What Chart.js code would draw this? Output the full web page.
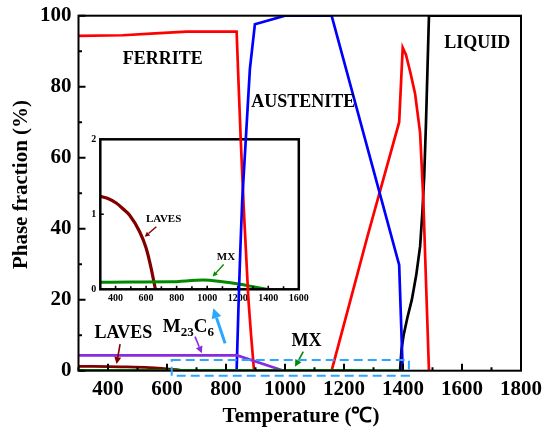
<!DOCTYPE html>
<html><head><meta charset="utf-8">
<script src="https://cdn.jsdelivr.net/npm/chart.js@4/dist/chart.umd.min.js"></script>
<style>
html,body{margin:0;padding:0;background:#fff;}
#wrap{position:relative;width:543px;height:432px;}
#inset{position:absolute;left:60px;top:125px;}
#main{position:absolute;left:0;top:0;}
</style></head>
<body><div id="wrap"><canvas id="inset" width="250" height="190"></canvas><canvas id="main" width="543" height="432"></canvas></div>
<script>
// ---------- data ----------
const ferriteT = [300, 450, 560, 667, 836, 843, 850, 860, 876, 885, 895, 1000, 1158, 1280, 1387, 1399, 1410, 1425, 1441, 1458, 1469, 1478, 1488];
const ferriteV = [94.3, 94.5, 95.0, 95.5, 95.5, 80, 65, 46, 20, 10, 0, 0, 0, 38, 70, 91, 89, 84, 78, 67, 48, 25, 0];
const austeniteT = [836, 843, 849, 855, 867, 881, 898, 1000, 1158, 1387, 1399];
const austeniteV = [0, 20, 35, 48, 65, 85, 97.6, 100, 100, 29.8, 0];
const liquidT = [1390, 1395, 1402, 1415, 1430, 1445, 1458, 1466, 1472, 1478, 1483, 1488, 1800];
const liquidV = [0, 6, 10, 15, 20, 27, 35, 45, 55, 70, 85, 100, 100];
const m23c6T = [300, 838, 995];
const m23c6V = [4.3, 4.3, 0];
const lavesT = [300, 350, 404, 450, 491, 557, 600, 633, 655, 661];
const lavesV = [1.24, 1.21, 1.15, 1.07, 0.99, 0.77, 0.55, 0.28, 0.06, 0];
const mxT = [300, 500, 757, 975, 1100, 1214, 1301, 1389];
const mxV = [0.093, 0.098, 0.10, 0.124, 0.10, 0.067, 0.035, 0];

const xTicks = [400, 600, 800, 1000, 1200, 1400, 1600, 1800];
const xMinor = [300, 500, 700, 900, 1100, 1300, 1500, 1700];
const yTicks = [0, 20, 40, 60, 80, 100];
const yMinor = [10, 30, 50, 70, 90];
const insetXTicks = [400, 600, 800, 1000, 1200, 1400, 1600];
const insetXMinor = [500, 700, 900, 1100, 1300, 1500];
const insetYTicks = [0, 1, 2];

// ---------- styling ----------
const SERIF = "'Liberation Serif','Times New Roman',serif";
const C = {red:'#FF0000', blue:'#0000FF', black:'#000000', purple:'#8A2BE2', laves:'#800000', green:'#008A00', lightBlue:'#2AA8FF'};

function pts(t, v){ return t.map((x, i) => ({x: x, y: v[i]})); }
function ds(label, t, v, color, w, smooth){
  const d = {label, data: pts(t, v), borderColor: color, backgroundColor: color, borderWidth: w,
          pointRadius: 0, showLine: true, fill: false, tension: 0};
  if (smooth) d.cubicInterpolationMode = 'monotone';
  return d;
}
function arrow(ctx, x1, y1, x2, y2, color, lw, head){
  ctx.save(); ctx.strokeStyle = color; ctx.fillStyle = color; ctx.lineWidth = lw;
  const a = Math.atan2(y2 - y1, x2 - x1);
  const bx = x2 - head * Math.cos(a), by = y2 - head * Math.sin(a);
  ctx.beginPath(); ctx.moveTo(x1, y1); ctx.lineTo(bx, by); ctx.stroke();
  const w = head * 0.5;
  ctx.beginPath(); ctx.moveTo(x2, y2);
  ctx.lineTo(bx + w * Math.sin(a), by - w * Math.cos(a));
  ctx.lineTo(bx - w * Math.sin(a), by + w * Math.cos(a));
  ctx.closePath(); ctx.fill(); ctx.restore();
}
function ticksIn(chart, xMaj, xMin, yMaj, yMin, majLen, minLen, lw){
  const ctx = chart.ctx, a = chart.chartArea, sx = chart.scales.x, sy = chart.scales.y;
  ctx.save(); ctx.strokeStyle = '#000'; ctx.lineWidth = lw; ctx.beginPath();
  xMaj.forEach(v => { const p = sx.getPixelForValue(v); ctx.moveTo(p, a.bottom); ctx.lineTo(p, a.bottom - majLen); });
  xMin.forEach(v => { const p = sx.getPixelForValue(v); ctx.moveTo(p, a.bottom); ctx.lineTo(p, a.bottom - minLen); });
  yMaj.forEach(v => { const p = sy.getPixelForValue(v); ctx.moveTo(a.left, p); ctx.lineTo(a.left + majLen, p); });
  yMin.forEach(v => { const p = sy.getPixelForValue(v); ctx.moveTo(a.left, p); ctx.lineTo(a.left + minLen, p); });
  ctx.stroke(); ctx.restore();
}
function frame(chart, lw){
  const ctx = chart.ctx, a = chart.chartArea;
  ctx.save(); ctx.strokeStyle = '#000'; ctx.lineWidth = lw;
  ctx.strokeRect(a.left, a.top, a.right - a.left, a.bottom - a.top); ctx.restore();
}
function text(chart, str, t, v, size, align){
  const ctx = chart.ctx;
  ctx.save(); ctx.fillStyle = '#000'; ctx.font = 'bold ' + size + 'px ' + SERIF;
  ctx.textAlign = align || 'center'; ctx.textBaseline = 'alphabetic';
  ctx.fillText(str, chart.scales.x.getPixelForValue(t), chart.scales.y.getPixelForValue(v));
  ctx.restore();
}
function dataArrow(chart, t1, v1, t2, v2, color, lw, head){
  const sx = chart.scales.x, sy = chart.scales.y;
  arrow(chart.ctx, sx.getPixelForValue(t1), sy.getPixelForValue(v1), sx.getPixelForValue(t2), sy.getPixelForValue(v2), color, lw, head);
}
const plainNum = v => String(v);
// the frame size is set by layout padding alone, not by label overflow
function fixX(h){ return s => { s.height = h; s.paddingLeft = 0; s.paddingRight = 0; }; }
function fixY(w){ return s => { s.width = w; s.paddingTop = 0; s.paddingBottom = 0; }; }

const mainDeco = {
  id: 'mainDeco',
  afterDraw(chart){
    const ctx = chart.ctx, sx = chart.scales.x, sy = chart.scales.y;
    frame(chart, 2);
    ticksIn(chart, xTicks, xMinor, yTicks, yMinor, 7, 3.5, 2);
    text(chart, 'FERRITE', 586, 86.3, 18);
    text(chart, 'AUSTENITE', 1062, 74.4, 18);
    text(chart, 'LIQUID', 1652, 91.0, 18);
    text(chart, 'LAVES', 452, 9.1, 18);
    text(chart, 'MX', 1073, 7.0, 18);
    ctx.save(); ctx.fillStyle = '#000'; ctx.textAlign = 'left'; ctx.textBaseline = 'alphabetic';
    let x = sx.getPixelForValue(586); const y = sy.getPixelForValue(10.9);
    const parts = [['M', 19, 0], ['23', 13, 4], ['C', 19, 0], ['6', 13, 4]];
    parts.forEach(p => { ctx.font = 'bold ' + p[1] + 'px ' + SERIF; ctx.fillText(p[0], x, y + p[2]); x += ctx.measureText(p[0]).width; });
    ctx.restore();
    dataArrow(chart, 441, 7.5, 429, 1.9, C.laves, 1.6, 7);
    dataArrow(chart, 695, 9.6, 718, 4.9, C.purple, 1.6, 7);
    dataArrow(chart, 797, 7.7, 757, 17.6, C.lightBlue, 3, 10);
    dataArrow(chart, 1062, 5.4, 1034, 1.1, C.green, 1.6, 7);
    ctx.save(); ctx.strokeStyle = C.lightBlue; ctx.lineWidth = 2; ctx.setLineDash([9, 5]);
    const l = sx.getPixelForValue(616), r = sx.getPixelForValue(1420), t = sy.getPixelForValue(3.0), b = sy.getPixelForValue(-1.4);
    ctx.strokeRect(l, t, r - l, b - t); ctx.restore();
    ctx.save(); ctx.fillStyle = '#000'; ctx.font = 'bold 21px ' + SERIF; ctx.textAlign = 'center'; ctx.textBaseline = 'middle';
    ctx.fillText('Temperature (\u2103)', 301, 417);
    ctx.translate(22, 184.5); ctx.rotate(-Math.PI / 2); ctx.fillText('Phase fraction (%)', 0, 0);
    ctx.restore();
  }
};

new Chart(document.getElementById('main'), {
  type: 'scatter',
  data: {datasets: [
    ds('MX', mxT, mxV, C.green, 2.7, true),
    ds('M23C6', m23c6T, m23c6V, C.purple, 2.7),
    ds('LAVES', lavesT, lavesV, C.laves, 2.7, true),
    ds('AUSTENITE', austeniteT, austeniteV, C.blue, 2.7),
    ds('FERRITE', ferriteT, ferriteV, C.red, 2.7),
    ds('LIQUID', liquidT, liquidV, C.black, 2.7)
  ]},
  options: {
    responsive: false, animation: false, events: [],
    layout: {padding: {top: 15.7, right: 22, left: 0, bottom: 0}},
    plugins: {legend: {display: false}, tooltip: {enabled: false}},
    scales: {
      x: {type: 'linear', min: 300, max: 1800,
          grid: {display: false, drawTicks: false}, border: {display: false},
          afterBuildTicks: s => { s.ticks = xTicks.map(v => ({value: v})); },
          afterFit: fixX(61.3),
          ticks: {callback: plainNum, font: {family: SERIF, size: 21, weight: 'bold'}, color: '#000', padding: 6, maxRotation: 0, autoSkip: false}},
      y: {type: 'linear', min: 0, max: 100,
          grid: {display: false, drawTicks: false}, border: {display: false},
          afterBuildTicks: s => { s.ticks = yTicks.map(v => ({value: v})); },
          afterFit: fixY(78.5),
          ticks: {callback: plainNum, font: {family: SERIF, size: 21, weight: 'bold'}, color: '#000', padding: 7, autoSkip: false}}
    }
  },
  plugins: [mainDeco]
});

const insetDeco = {
  id: 'insetDeco',
  afterDraw(chart){
    frame(chart, 2.5);
    ticksIn(chart, insetXTicks, insetXMinor, insetYTicks, [], 3.5, 3, 1.6);
    text(chart, 'LAVES', 715, 0.90, 11);
    text(chart, 'MX', 1123, 0.39, 11);
    dataArrow(chart, 667, 0.835, 591, 0.70, C.laves, 1.4, 5);
    dataArrow(chart, 1108, 0.33, 1036, 0.17, C.green, 1.4, 5);
  }
};

new Chart(document.getElementById('inset'), {
  type: 'scatter',
  data: {datasets: [
    ds('MX', mxT, mxV, C.green, 3, true),
    ds('LAVES', lavesT, lavesV, C.laves, 3.2, true)
  ]},
  options: {
    responsive: false, animation: false, events: [],
    layout: {padding: {top: 14.3, right: 11.2, left: 0, bottom: 0}},
    plugins: {legend: {display: false}, tooltip: {enabled: false}},
    scales: {
      x: {type: 'linear', min: 300, max: 1600,
          grid: {display: false, drawTicks: false}, border: {display: false},
          afterBuildTicks: s => { s.ticks = insetXTicks.map(v => ({value: v})); },
          afterFit: fixX(25.7),
          ticks: {callback: plainNum, font: {family: SERIF, size: 10, weight: 'bold'}, color: '#000', padding: 3, maxRotation: 0, autoSkip: false}},
      y: {type: 'linear', min: 0, max: 2,
          grid: {display: false, drawTicks: false}, border: {display: false},
          afterBuildTicks: s => { s.ticks = insetYTicks.map(v => ({value: v})); },
          afterFit: fixY(40.3),
          ticks: {callback: plainNum, font: {family: SERIF, size: 10, weight: 'bold'}, color: '#000', padding: 4, autoSkip: false}}
    }
  },
  plugins: [insetDeco]
});
</script>
</body></html>
